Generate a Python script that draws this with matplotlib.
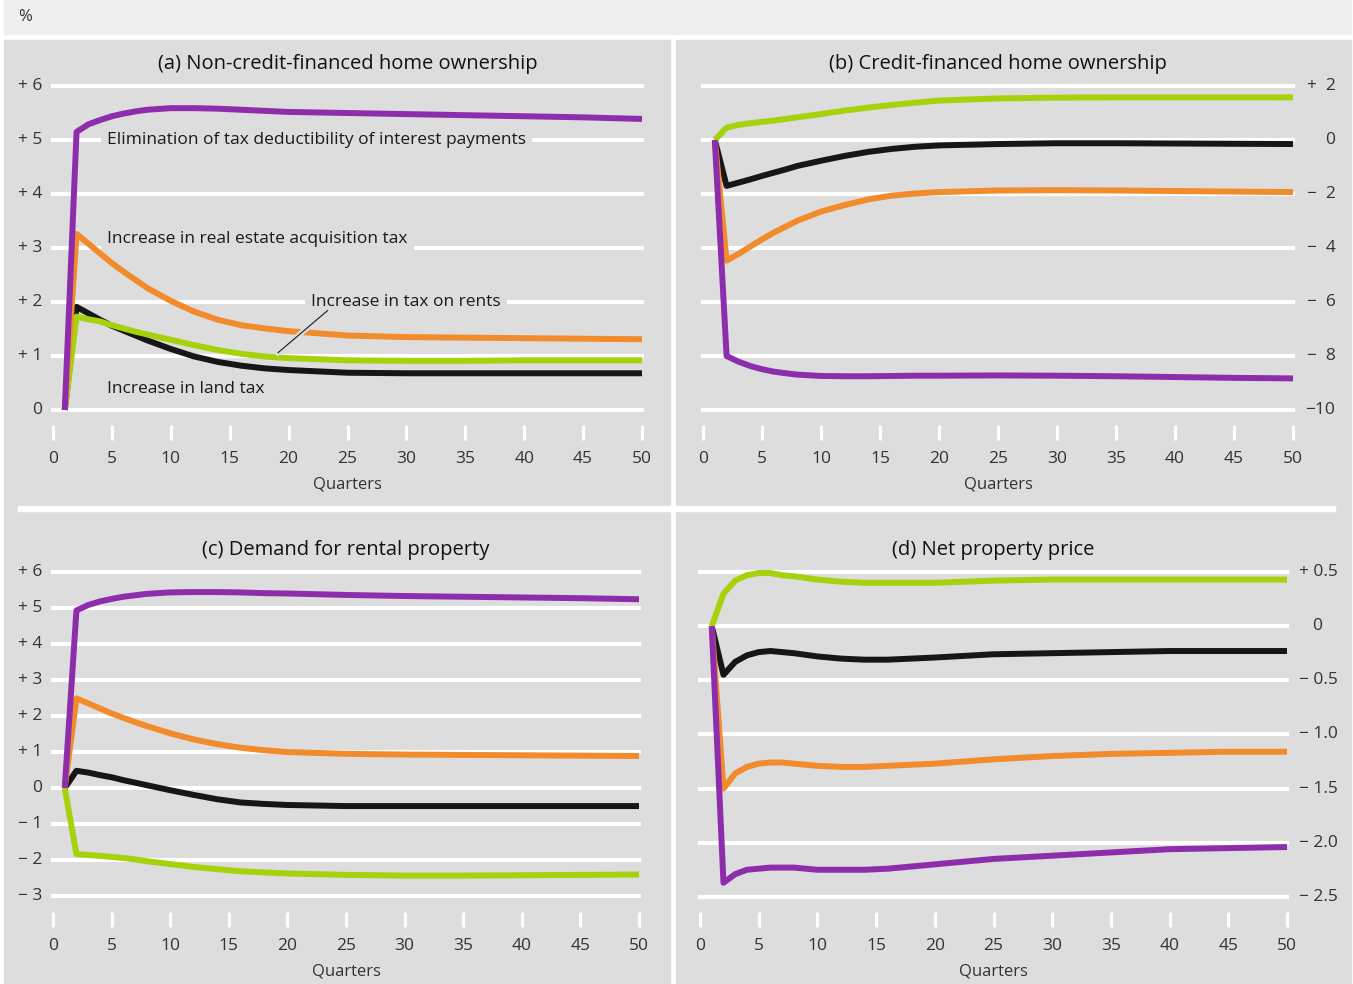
import matplotlib
matplotlib.use("Agg")
import matplotlib.pyplot as plt
import matplotlib.patheffects as pe
from matplotlib.patches import Rectangle

plt.rcParams['font.family'] = ['Open Sans', 'DejaVu Sans']

purple = '#8e2dac'
orange = '#f28b2c'
green  = '#a5d20a'
black  = '#161616'
panel_gray = '#dcdddc'
strip_gray = '#efefef'
text_col = '#333333'

W, H = 1353, 984

quarters = [1, 2, 3, 4, 5, 6, 7, 8, 10, 12, 14, 16, 18, 20, 25, 30, 35, 40, 45, 50]

# (a) non-credit-financed home ownership
a_interest = [0, 5.15, 5.29, 5.37, 5.44, 5.49, 5.53, 5.56, 5.59, 5.59, 5.58, 5.56, 5.54, 5.52, 5.50, 5.48, 5.46, 5.44, 5.42, 5.39]
a_acquis   = [0, 3.26, 3.08, 2.90, 2.72, 2.56, 2.41, 2.26, 2.02, 1.82, 1.67, 1.57, 1.51, 1.46, 1.38, 1.35, 1.34, 1.33, 1.32, 1.31]
a_land     = [0, 1.91, 1.79, 1.67, 1.56, 1.47, 1.38, 1.29, 1.13, 0.99, 0.89, 0.82, 0.77, 0.74, 0.69, 0.68, 0.68, 0.68, 0.68, 0.68]
a_rents    = [0, 1.73, 1.68, 1.64, 1.57, 1.51, 1.45, 1.40, 1.30, 1.20, 1.11, 1.04, 0.99, 0.96, 0.92, 0.91, 0.91, 0.92, 0.92, 0.92]

# (b) credit-financed home ownership
b_interest = [0, -8.00, -8.21, -8.37, -8.49, -8.58, -8.64, -8.69, -8.74, -8.75, -8.75, -8.74, -8.73, -8.73, -8.72, -8.73, -8.75, -8.78, -8.81, -8.83]
b_acquis   = [0, -4.47, -4.22, -3.95, -3.68, -3.43, -3.21, -2.99, -2.65, -2.41, -2.20, -2.06, -1.98, -1.93, -1.87, -1.86, -1.87, -1.89, -1.91, -1.93]
b_land     = [0, -1.70, -1.58, -1.46, -1.33, -1.21, -1.09, -0.96, -0.77, -0.59, -0.44, -0.33, -0.25, -0.20, -0.15, -0.12, -0.12, -0.13, -0.14, -0.15]
b_rents    = [0, 0.46, 0.56, 0.62, 0.67, 0.72, 0.78, 0.84, 0.96, 1.09, 1.20, 1.30, 1.38, 1.46, 1.54, 1.57, 1.58, 1.58, 1.58, 1.58]

# (c) demand for rental property
c_interest = [0, 4.93, 5.08, 5.18, 5.25, 5.31, 5.35, 5.39, 5.43, 5.44, 5.44, 5.43, 5.41, 5.40, 5.36, 5.33, 5.31, 5.29, 5.27, 5.24]
c_acquis   = [0, 2.49, 2.35, 2.21, 2.07, 1.95, 1.83, 1.72, 1.52, 1.35, 1.22, 1.12, 1.05, 1.00, 0.95, 0.93, 0.92, 0.91, 0.90, 0.89]
c_land     = [0, 0.48, 0.43, 0.36, 0.30, 0.22, 0.15, 0.08, -0.06, -0.19, -0.31, -0.40, -0.44, -0.47, -0.50, -0.50, -0.50, -0.50, -0.50, -0.50]
c_rents    = [0, -1.83, -1.86, -1.88, -1.91, -1.94, -1.98, -2.03, -2.11, -2.19, -2.25, -2.31, -2.34, -2.37, -2.41, -2.43, -2.43, -2.42, -2.41, -2.40]

# (d) net property price
d_interest = [0, -2.37, -2.29, -2.25, -2.24, -2.23, -2.23, -2.23, -2.25, -2.25, -2.25, -2.24, -2.22, -2.20, -2.15, -2.12, -2.09, -2.06, -2.05, -2.04]
d_acquis   = [0, -1.50, -1.36, -1.30, -1.27, -1.26, -1.26, -1.27, -1.29, -1.30, -1.30, -1.29, -1.28, -1.27, -1.23, -1.20, -1.18, -1.17, -1.16, -1.16]
d_land     = [0, -0.45, -0.33, -0.27, -0.24, -0.23, -0.24, -0.25, -0.28, -0.30, -0.31, -0.31, -0.30, -0.29, -0.26, -0.25, -0.24, -0.23, -0.23, -0.23]
d_rents    = [0, 0.30, 0.42, 0.47, 0.49, 0.49, 0.47, 0.46, 0.43, 0.41, 0.40, 0.40, 0.40, 0.40, 0.42, 0.43, 0.43, 0.43, 0.43, 0.43]

x_ticks = list(range(0, 51, 5))

a_yticks = [0, 1, 2, 3, 4, 5, 6]
a_ylabels = ['0', '+ 1', '+ 2', '+ 3', '+ 4', '+ 5', '+ 6']
b_yticks = [2, 0, -2, -4, -6, -8, -10]
b_ylabels = ['+  2', '0', '\u2212  2', '\u2212  4', '\u2212  6', '\u2212  8', '\u221210']
c_yticks = [6, 5, 4, 3, 2, 1, 0, -1, -2, -3]
c_ylabels = ['+ 6', '+ 5', '+ 4', '+ 3', '+ 2', '+ 1', '0', '\u2212 1', '\u2212 2', '\u2212 3']
d_yticks = [0.5, 0, -0.5, -1.0, -1.5, -2.0, -2.5]
d_ylabels = ['+ 0.5', '0', '\u2212 0.5', '\u2212 1.0', '\u2212 1.5', '\u2212 2.0', '\u2212 2.5']

titles = ['(a) Non-credit-financed home ownership', '(b) Credit-financed home ownership',
          '(c) Demand for rental property', '(d) Net property price']


def fx(px):
    return px / W


def fy(py):
    return 1 - py / H


fig = plt.figure(figsize=(W / 100, H / 100), dpi=100)

# backgrounds
fig.patches.append(Rectangle((fx(4), fy(34)), fx(1347), 34 / H, transform=fig.transFigure,
                             color=strip_gray, zorder=-10))
fig.patches.append(Rectangle((fx(4), 0), fx(666), fy(40), transform=fig.transFigure,
                             color=panel_gray, zorder=-10))
fig.patches.append(Rectangle((fx(676), 0), fx(675), fy(40), transform=fig.transFigure,
                             color=panel_gray, zorder=-10))
fig.patches.append(Rectangle((fx(18), fy(511)), fx(1317), 5 / H, transform=fig.transFigure,
                             color='white', zorder=-9))
fig.text(fx(18), fy(17), '%', fontsize=12, color=text_col, va='center', ha='left')


def make_panel(box, ylim, yticks, ylabels, label_x, series, title, title_y):
    left, top, right, bottom = box
    ax = fig.add_axes([fx(left), fy(bottom), fx(right - left), (bottom - top) / H])
    ax.set_facecolor('none')
    ax.set_xlim(0, 50)
    ax.set_ylim(*ylim)
    for s in ax.spines.values():
        s.set_visible(False)
    for v in yticks:
        ax.axhline(v, color='white', lw=3, zorder=1, clip_on=False)
    ax.set_yticks([])
    ax.set_xticks(x_ticks)
    ax.set_xticklabels([str(t) for t in x_ticks])
    ax.tick_params(axis='x', direction='out', length=11, width=2.3, color='white',
                   labelsize=12.5, labelcolor=text_col, pad=7.5)
    for vals, col in series:
        ax.plot(quarters, vals, color=col, lw=4.3, zorder=3, clip_on=False,
                solid_joinstyle='round', solid_capstyle='butt')
    for v, lab in zip(yticks, ylabels):
        ax.text(label_x, v, lab, ha='right', va='center', fontsize=12.5, color=text_col)
    cx = (left + right) / 2
    fig.text(fx(cx), fy(title_y), title, ha='center', va='center',
             fontsize=14.5, color='#111111')
    fig.text(fx(cx), fy(bottom + 59), 'Quarters', ha='center', va='center', fontsize=12,
             color=text_col)
    return ax


ax_a = make_panel((53, 81.7, 642, 425), (-0.278, 6.08), a_yticks, a_ylabels, -0.9,
                  [(a_land, black), (a_rents, green), (a_acquis, orange), (a_interest, purple)],
                  titles[0], 63.5)
ax_b = make_panel((703, 83.3, 1293, 425), (-10.556, 2.1), b_yticks, b_ylabels, 53.6,
                  [(b_land, black), (b_rents, green), (b_acquis, orange), (b_interest, purple)],
                  titles[1], 63.5)
ax_c = make_panel((53, 569, 639, 912), (-3.44, 6.08), c_yticks, c_ylabels, -0.9,
                  [(c_land, black), (c_rents, green), (c_acquis, orange), (c_interest, purple)],
                  titles[2], 549.5)
ax_d = make_panel((700, 569.8, 1287, 912), (-2.64, 0.52), d_yticks, [], 54.3,
                  [(d_land, black), (d_rents, green), (d_acquis, orange), (d_interest, purple)],
                  titles[3], 549.5)

# panel (d) labels are aligned on the integer digit
for v, lab in zip(d_yticks, d_ylabels):
    if lab == '0':
        ax_d.text(52.6, v, lab, ha='center', va='center', fontsize=12.5, color=text_col)
    else:
        ax_d.text(54.3, v, lab, ha='right', va='center', fontsize=12.5, color=text_col)

# annotations in panel (a)
box = dict(boxstyle='square,pad=0.35', fc=panel_gray, ec='none')
ax_a.text(4.6, 5.0, 'Elimination of tax deductibility of interest payments', fontsize=12.5,
          color='#1a1a1a', va='center', ha='left', bbox=box, zorder=2)
ax_a.text(4.6, 3.17, 'Increase in real estate acquisition tax', fontsize=12.5,
          color='#1a1a1a', va='center', ha='left', bbox=box, zorder=2)
ax_a.text(21.9, 2.0, 'Increase in tax on rents', fontsize=12.5,
          color='#1a1a1a', va='center', ha='left', bbox=box, zorder=2)
ax_a.text(4.6, 0.38, 'Increase in land tax', fontsize=12.5,
          color='#1a1a1a', va='center', ha='left', zorder=2)
ax_a.plot([23.3, 19.1], [1.84, 1.06], color='#1a1a1a', lw=0.8, zorder=4,
          path_effects=[pe.withStroke(linewidth=4, foreground=panel_gray)])

fig.savefig('out.png', dpi=100)
